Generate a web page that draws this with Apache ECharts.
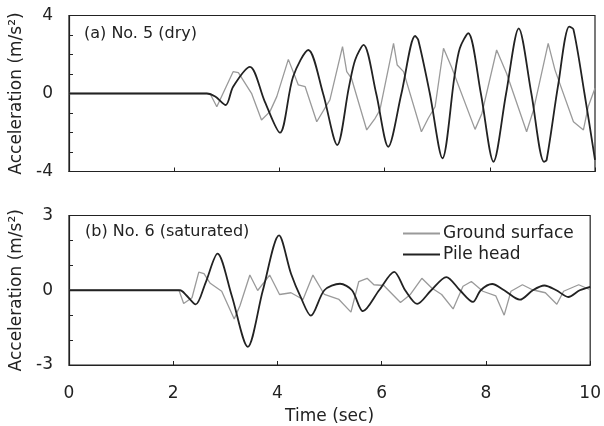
<!DOCTYPE html>
<html>
<head>
<meta charset="utf-8">
<script src="https://cdn.jsdelivr.net/npm/echarts@6/dist/echarts.min.js"></script>
<style>
  html, body { margin: 0; background: #fff; }
  #chart { width: 604px; height: 426px; }
</style>
</head>
<body>
<div id="chart"></div>
<script>
const seriesNames = ['Ground surface', 'Pile head'];
const panelTitles = ['(a) No. 5 (dry)', '(b) No. 6 (saturated)'];
const xTickLabels = [0, 2, 4, 6, 8, 10];
const yTickLabelsDry = [-4, 0, 4];
const yTickLabelsSat = [-3, 0, 3];

// (a) No. 5 dry - time (s) / acceleration (m/s2)
const dryGroundT = [0, 2.68, 2.81, 3.12, 3.22, 3.47, 3.66, 3.82, 3.95, 4.17, 4.36, 4.49, 4.71, 4.96, 5.20, 5.28, 5.37, 5.66, 5.82, 5.91, 6.17, 6.24, 6.36, 6.70, 6.83, 6.96, 7.12, 7.27, 7.72, 7.85, 8.13, 8.32, 8.70, 8.83, 9.11, 9.24, 9.59, 9.78, 9.87, 10];
const dryGroundA = [0, 0, -0.68, 1.12, 1.07, 0.01, -1.36, -0.93, -0.16, 1.75, 0.44, 0.35, -1.45, -0.33, 2.40, 1.12, 0.78, -1.87, -1.27, -0.85, 2.57, 1.46, 1.12, -1.96, -1.27, -0.68, 2.32, 1.37, -1.84, -1.02, 2.23, 1.03, -1.96, -0.85, 2.57, 1.20, -1.45, -1.87, -0.68, 0.27];
const dryPileT = [0, 2.62, 2.78, 2.98, 3.12, 3.44, 3.72, 4.01, 4.26, 4.55, 4.83, 5.10, 5.32, 5.44, 5.60, 5.84, 6.07, 6.32, 6.58, 6.64, 6.86, 7.10, 7.33, 7.43, 7.59, 7.83, 8.07, 8.31, 8.55, 8.79, 9.03, 9.08, 9.30, 9.51, 9.59, 9.80, 10];
const dryPileA = [0, 0, -0.15, -0.59, 0.35, 1.37, -0.40, -2.01, 0.86, 2.23, 0, -2.64, 0.30, 1.72, 2.49, 0, -2.73, 0, 2.95, 2.74, 0, -3.32, 0.90, 2.32, 3.09, 0, -3.50, 0, 3.34, 0, -3.50, -3.41, 0.44, 3.43, 3.29, 0, -3.40];

// (b) No. 6 saturated
const satGroundT = [0, 2.11, 2.20, 2.36, 2.49, 2.59, 2.71, 2.93, 3.17, 3.28, 3.47, 3.62, 3.85, 4.04, 4.26, 4.49, 4.68, 4.90, 5.18, 5.41, 5.56, 5.72, 5.85, 6.04, 6.36, 6.55, 6.77, 6.96, 7.15, 7.37, 7.56, 7.72, 7.94, 8.19, 8.35, 8.48, 8.70, 8.89, 9.14, 9.36, 9.49, 9.78, 10];
const satGroundA = [0, 0, -0.53, -0.30, 0.73, 0.67, 0.28, -0.04, -1.15, -0.62, 0.61, -0.01, 0.61, -0.17, -0.10, -0.37, 0.61, -0.17, -0.37, -0.88, 0.35, 0.48, 0.22, 0.19, -0.49, -0.17, 0.48, 0.09, -0.17, -0.75, 0.16, 0.35, -0.04, -0.23, -1.00, -0.04, 0.22, 0.02, -0.10, -0.56, -0.04, 0.22, 0.02];
const satPileT = [0, 2.13, 2.25, 2.43, 2.62, 2.85, 3.12, 3.43, 3.72, 4.03, 4.26, 4.45, 4.64, 4.90, 5.20, 5.43, 5.64, 5.95, 6.24, 6.45, 6.68, 6.95, 7.24, 7.50, 7.75, 7.90, 8.12, 8.35, 8.65, 8.90, 9.12, 9.35, 9.58, 9.80, 10];
const satPileA = [0, 0, -0.20, -0.57, 0.30, 1.47, -0.20, -2.27, 0, 2.20, 0.66, -0.30, -1.02, 0, 0.26, 0, -0.84, 0, 0.74, 0, -0.55, 0, 0.53, 0, -0.47, 0, 0.25, 0, -0.38, 0, 0.19, 0, -0.27, 0, 0.14];

const zip = (t, a) => t.map((v, i) => [v, a[i]]);

const FONT = 'DejaVu Sans';
const INK = '#222';
const GRAY = '#9a9a9a';

function xAxisFor(gridIndex, showLabels) {
  return {
    type: 'value', gridIndex, min: 0, max: 10, interval: 2,
    axisLine: { show: true, onZero: false, lineStyle: { color: INK, width: 1.2 } },
    axisTick: { show: true, inside: true, length: 4, lineStyle: { color: INK } },
    axisLabel: {
      show: showLabels, margin: 20, fontFamily: FONT, fontSize: 17, color: INK,
      formatter: v => xTickLabels.includes(v) ? String(v) : ''
    },
    splitLine: { show: false },
    name: showLabels ? 'Time (sec)' : '',
    nameLocation: 'middle', nameGap: 43,
    nameTextStyle: { fontFamily: FONT, fontSize: 17, color: INK }
  };
}

function yAxisFor(gridIndex, lim, labels) {
  return {
    type: 'value', gridIndex, min: -lim, max: lim, interval: 1,
    axisLine: { show: true, onZero: false, lineStyle: { color: INK, width: 1.2 } },
    axisTick: { show: true, inside: true, length: 4, lineStyle: { color: INK } },
    axisLabel: {
      margin: 16, fontFamily: FONT, fontSize: 17, color: INK,
      formatter: v => labels.includes(v) ? String(v) : ''
    },
    splitLine: { show: false },
    name: 'Acceleration (m/s²)',
    nameLocation: 'middle', nameGap: 39,
    nameTextStyle: { fontFamily: FONT, fontSize: 17, color: INK }
  };
}

function line(name, data, xi, color, width, smooth) {
  return {
    name, type: 'line', xAxisIndex: xi, yAxisIndex: xi, data,
    symbol: 'none', smooth, lineStyle: { color, width }, itemStyle: { color },
    animation: false
  };
}

const chart = echarts.init(document.getElementById('chart'));
chart.setOption({
  backgroundColor: '#fff',
  animation: false,
  title: [
    { text: panelTitles[0], left: 84, top: 26, padding: 0,
      textStyle: { fontFamily: FONT, fontSize: 16, fontWeight: 'normal', color: INK } },
    { text: panelTitles[1], left: 85, top: 224, padding: 0,
      textStyle: { fontFamily: FONT, fontSize: 16, fontWeight: 'normal', color: INK } }
  ],
  legend: {
    orient: 'vertical', left: 403, top: 225, padding: 0, itemGap: 4,
    itemWidth: 37, itemHeight: 2,
    data: [
      { name: seriesNames[0], icon: 'rect', itemStyle: { color: GRAY } },
      { name: seriesNames[1], icon: 'rect', itemStyle: { color: INK } }
    ],
    textStyle: { fontFamily: FONT, fontSize: 17, color: INK, padding: [0, 0, 0, -2] }
  },
  grid: [
    { left: 69, right: 9, top: 15.5, height: 156, show: true, borderColor: INK, borderWidth: 1.2 },
    { left: 69, right: 9, top: 215.5, height: 154, show: true, borderColor: INK, borderWidth: 1.2 }
  ],
  xAxis: [xAxisFor(0, false), xAxisFor(1, true)],
  yAxis: [yAxisFor(0, 4, yTickLabelsDry), yAxisFor(1, 3, yTickLabelsSat)],
  series: [
    line(seriesNames[0], zip(dryGroundT, dryGroundA), 0, GRAY, 1.3, false),
    line(seriesNames[1], zip(dryPileT, dryPileA), 0, INK, 1.8, 0.3),
    line(seriesNames[0], zip(satGroundT, satGroundA), 1, GRAY, 1.3, false),
    line(seriesNames[1], zip(satPileT, satPileA), 1, INK, 1.8, 0.3)
  ]
});
</script>
</body>
</html>
